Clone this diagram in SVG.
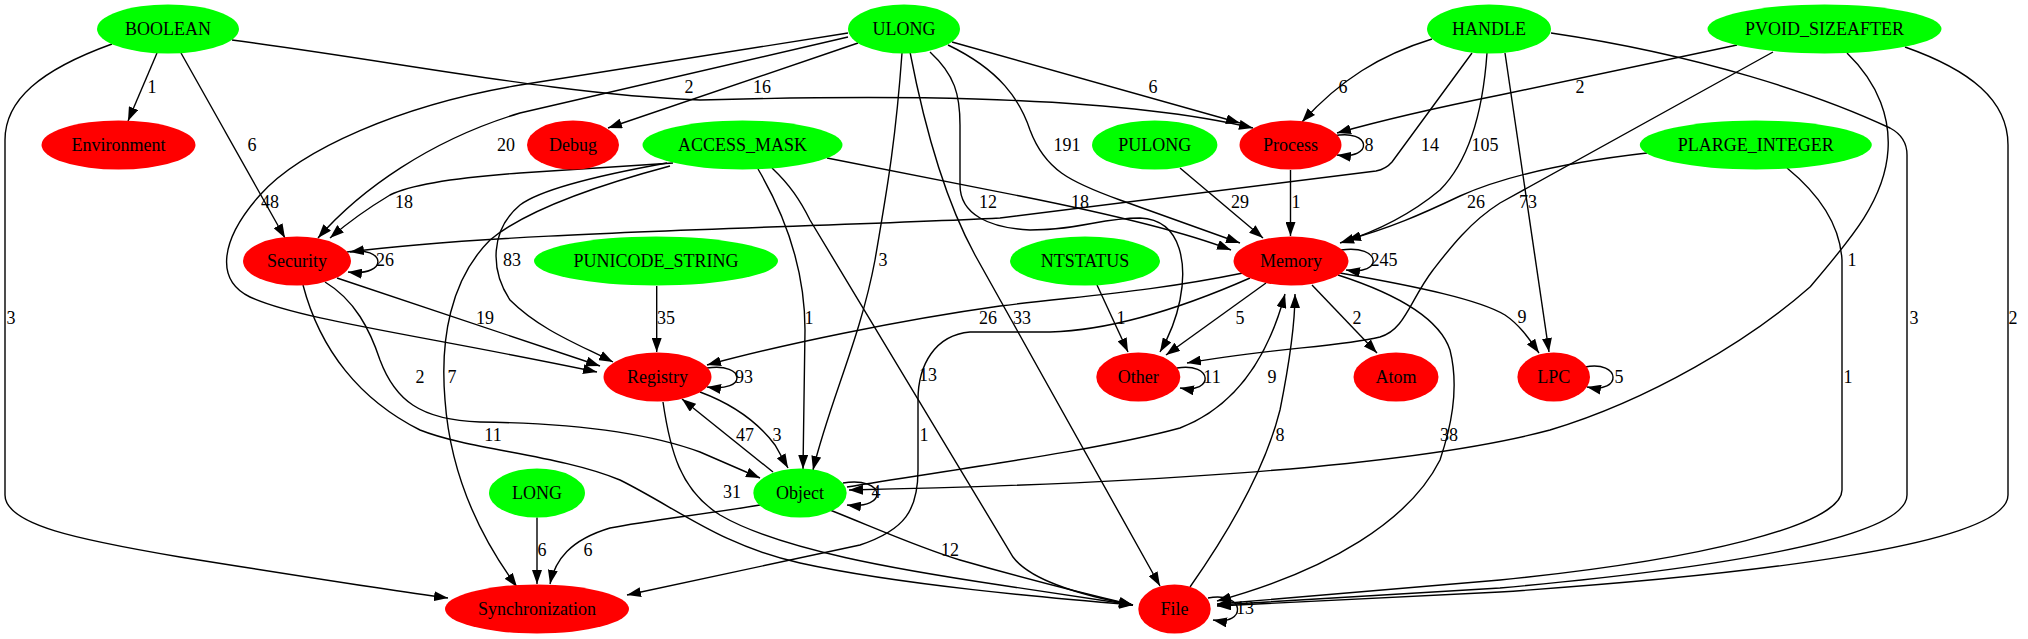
<svg xmlns="http://www.w3.org/2000/svg" width="2028" height="639" viewBox="0 0 2028 639">
<style>
text{font-family:"Liberation Serif","Times New Roman",serif;font-size:18px;text-anchor:middle;fill:#000}
.e path{fill:none;stroke:#000;stroke-width:1.4;marker-end:url(#arr)}
.g{fill:#00ff00}
.r{fill:#ff0000}
</style>
<defs>
<marker id="arr" viewBox="0 0 14 10" refX="14" refY="5" markerWidth="14" markerHeight="10" markerUnits="userSpaceOnUse" orient="auto">
<path d="M0,0 L14,5 L0,10 z" fill="#000"/>
</marker>
</defs>
<rect width="2028" height="639" fill="#fff"/>
<g id="edges" class="e">
<g id="e1"><path d="M157,53 L128,121"/><text x="152" y="93">1</text></g>
<g id="e2"><path d="M181,53 L285,238"/><text x="252" y="151">6</text></g>
<g id="e3"><path d="M232,40 C 400,62 560,95 700,100 C 850,96 1100,92 1253,128"/><text x="689" y="93">2</text></g>
<g id="e4"><path d="M112,44 C 40,70 5,100 5,140 L5,495 C 5,525 80,540 180,557 C 280,573 380,589 448,598"/><text x="11" y="324">3</text></g>
<g id="e5"><path d="M858,43 L608,128"/><text x="762" y="93">16</text></g>
<g id="e6"><path d="M848,37 L520,113 C 430,140 360,190 318,238"/><text x="506" y="151">20</text></g>
<g id="e7"><path d="M848,33 L520,85 C 400,105 300,150 260,195 C 220,240 215,280 250,297 C 300,320 420,335 597,372"/><text x="270" y="208">48</text></g>
<g id="e8"><path d="M952,42 L1240,123"/><text x="1153" y="93">6</text></g>
<g id="e9"><path d="M948,45 C 1000,70 1020,100 1030,130 C 1045,170 1070,182 1120,200 L1240,243"/><text x="1067" y="151">191</text></g>
<g id="e10"><path d="M930,52 C 955,75 960,95 960,125 L960,185 C 960,215 990,228 1030,230 C 1080,230 1100,218 1140,218 C 1185,220 1186,270 1180,300 C 1176,320 1170,335 1160,352"/><text x="988" y="208">12</text></g>
<g id="e11"><path d="M902,53 C 895,150 885,200 875,260 C 860,340 830,400 813,470"/><text x="883" y="266">3</text></g>
<g id="e12"><path d="M910,52 C 925,130 945,200 975,255 L1160,586"/><text x="1022" y="324">33</text></g>
<g id="e13"><path d="M673,163 L520,173 C 450,178 410,185 390,195 C 365,210 345,225 330,238"/><text x="404" y="208">18</text></g>
<g id="e14"><path d="M667,163 C 600,175 540,190 520,205 C 490,230 490,270 510,300 C 540,330 580,345 613,362"/><text x="512" y="266">83</text></g>
<g id="e15"><path d="M670,166 C 580,190 520,215 490,240 C 450,280 440,340 445,400 C 450,470 475,530 517,587"/><text x="452" y="383">7</text></g>
<g id="e16"><path d="M827,158 L1020,196 C 1100,212 1180,230 1231,250"/><text x="1080" y="208">18</text></g>
<g id="e17"><path d="M758,169 C 785,215 805,270 805,330 L803,469"/><text x="809" y="324">1</text></g>
<g id="e18"><path d="M772,168 C 790,185 800,200 810,220 L1013,557 C 1030,580 1080,595 1133,605"/><text x="928" y="381">13</text></g>
<g id="e19"><path d="M1432,39 C 1380,55 1340,80 1302,122"/><text x="1343" y="93">6</text></g>
<g id="e20"><path d="M1472,53 L1392,162 Q1386,169 1376,171 L1000,218 C 800,228 500,232 350,252"/><text x="1430" y="151">14</text></g>
<g id="e21"><path d="M1487,53 C 1483,110 1470,160 1440,190 C 1410,215 1375,232 1340,243"/><text x="1485" y="151">105</text></g>
<g id="e22"><path d="M1505,53 L1549,352"/><text x="1528" y="208">73</text></g>
<g id="e23"><path d="M1551,33 C 1700,55 1820,95 1890,128 Q1907,137 1907,155 L1907,495 C 1907,540 1700,570 1500,588 L1217,605"/><text x="1914" y="324">3</text></g>
<g id="e24"><path d="M1737,45 L1500,95 C 1450,105 1390,118 1337,133"/><text x="1580" y="93">2</text></g>
<g id="e25"><path d="M1773,52 L1500,203 C 1470,222 1450,248 1433,270 C 1410,300 1405,330 1380,337 C 1340,347 1270,348 1187,363"/></g>
<g id="e26"><path d="M1847,53 C 1880,85 1890,120 1888,150 C 1885,200 1850,240 1810,287 C 1750,340 1650,400 1550,430 C 1400,470 1100,485 849,490"/><text x="1852" y="266">1</text></g>
<g id="e27"><path d="M1905,47 C 1970,70 2008,100 2008,145 L2008,495 C 2008,545 1750,575 1500,592 L1217,606"/><text x="2013" y="324">2</text></g>
<g id="e28"><path d="M1787,168 C 1820,195 1840,225 1842,260 L1842,490 C 1842,525 1700,560 1500,580 L1217,604"/><text x="1848" y="383">1</text></g>
<g id="e29"><path d="M1647,153 C 1560,163 1500,178 1460,196 C 1420,215 1390,228 1347,240"/><text x="1476" y="208">26</text></g>
<g id="e30"><path d="M1180,168 L1263,238"/><text x="1240" y="208">29</text></g>
<g id="e31"><path d="M1290.5,170 L1290.5,236"/><text x="1296" y="208">1</text></g>
<g id="e32"><path d="M1333,136 C 1372,128 1374,160 1337,155"/><text x="1369" y="151">8</text></g>
<g id="e33"><path d="M1341,250 C 1382,244 1384,276 1346,270"/><text x="1384" y="266">245</text></g>
<g id="e34"><path d="M1243,273 C 1150,292 1080,296 1000,306 C 900,320 780,345 707,365"/><text x="988" y="324">26</text></g>
<g id="e35"><path d="M1250,278 C 1200,300 1120,330 1050,332 L970,332 C 935,335 918,365 918,400 L918,470 C 918,510 905,530 860,545 L627,595"/><text x="924" y="441">1</text></g>
<g id="e36"><path d="M1266,283 L1166,355"/><text x="1240" y="324">5</text></g>
<g id="e37"><path d="M1097,285 L1128,352"/><text x="1121" y="324">1</text></g>
<g id="e38"><path d="M1312,285 L1377,353"/><text x="1357" y="324">2</text></g>
<g id="e39"><path d="M1340,273 C 1420,287 1480,300 1505,315 C 1520,325 1530,340 1539,353"/><text x="1522" y="323">9</text></g>
<g id="e40"><path d="M1338,275 C 1400,295 1440,320 1450,350 C 1460,390 1450,430 1440,460 C 1410,520 1330,570 1217,601"/><text x="1449" y="441">38</text></g>
<g id="e41"><path d="M1190,587 C 1230,530 1265,470 1280,410 C 1290,360 1295,320 1295,294"/><text x="1280" y="441">8</text></g>
<g id="e42"><path d="M847,487 C 950,470 1100,450 1180,428 C 1240,405 1270,350 1285,294"/><text x="1272" y="383">9</text></g>
<g id="e43"><path d="M656.7,286 L656.7,352"/><text x="666" y="324">35</text></g>
<g id="e44"><path d="M347,252 C 387,245 389,277 348,272"/><text x="385" y="266">26</text></g>
<g id="e45"><path d="M337,278 L600,366"/><text x="485" y="324">19</text></g>
<g id="e46"><path d="M325,282 C 355,300 370,330 380,360 C 395,400 420,420 480,422 C 560,423 640,430 700,452 L760,478"/><text x="420" y="383">2</text></g>
<g id="e47"><path d="M303,285 C 320,350 360,400 420,430 C 470,450 560,455 620,480 C 680,510 720,545 800,563 C 900,585 1050,598 1133,605"/><text x="493" y="441">11</text></g>
<g id="e48"><path d="M707,368 C 746,362 748,393 707,387"/><text x="744" y="383">93</text></g>
<g id="e49"><path d="M700,392 C 735,405 760,425 775,445 L788,468"/><text x="777" y="441">3</text></g>
<g id="e50"><path d="M773,472 L682,399"/><text x="745" y="441">47</text></g>
<g id="e51"><path d="M663,402 C 670,450 680,490 720,515 C 780,550 900,570 1000,585 L1133,605"/><text x="732" y="498">31</text></g>
<g id="e52"><path d="M843,483 C 886,476 889,510 847,505"/><text x="876" y="498">4</text></g>
<g id="e53"><path d="M760,505 C 700,515 650,520 610,528 C 570,540 555,560 550,584"/><text x="588" y="556">6</text></g>
<g id="e54"><path d="M537,517.5 L537,584"/><text x="542" y="556">6</text></g>
<g id="e55"><path d="M830,510 C 880,530 920,548 960,560 C 1030,580 1090,595 1133,605"/><text x="950" y="556">12</text></g>
<g id="e56"><path d="M1208,598 C 1246,591 1247,626 1213,620"/><text x="1245" y="614">13</text></g>
<g id="e57"><path d="M1177,368 C 1213,362 1215,394 1180,388"/><text x="1212" y="383">11</text></g>
<g id="e58"><path d="M1585,367 C 1621,360 1623,394 1587,387"/><text x="1619" y="383">5</text></g>
</g>
<g id="node-BOOLEAN"><ellipse class="g" cx="168" cy="29" rx="71" ry="24.5"/><text x="168" y="35">BOOLEAN</text></g>
<g id="node-ULONG"><ellipse class="g" cx="904" cy="29" rx="56" ry="24.5"/><text x="904" y="35">ULONG</text></g>
<g id="node-HANDLE"><ellipse class="g" cx="1489" cy="29" rx="62" ry="24.5"/><text x="1489" y="35">HANDLE</text></g>
<g id="node-PVOID_SIZEAFTER"><ellipse class="g" cx="1824.5" cy="29" rx="117" ry="24.5"/><text x="1824.5" y="35">PVOID_SIZEAFTER</text></g>
<g id="node-Environment"><ellipse class="r" cx="118.5" cy="145" rx="77" ry="24.5"/><text x="118.5" y="151">Environment</text></g>
<g id="node-Debug"><ellipse class="r" cx="573" cy="145" rx="46" ry="24.5"/><text x="573" y="151">Debug</text></g>
<g id="node-ACCESS_MASK"><ellipse class="g" cx="742.5" cy="145" rx="100" ry="24.5"/><text x="742.5" y="151">ACCESS_MASK</text></g>
<g id="node-PULONG"><ellipse class="g" cx="1154.7" cy="145" rx="62.7" ry="24.5"/><text x="1154.7" y="151">PULONG</text></g>
<g id="node-Process"><ellipse class="r" cx="1290.5" cy="145" rx="51" ry="24.5"/><text x="1290.5" y="151">Process</text></g>
<g id="node-PLARGE_INTEGER"><ellipse class="g" cx="1755.8" cy="145" rx="116" ry="24.5"/><text x="1755.8" y="151">PLARGE_INTEGER</text></g>
<g id="node-Security"><ellipse class="r" cx="297" cy="261" rx="54" ry="24.5"/><text x="297" y="267">Security</text></g>
<g id="node-PUNICODE_STRING"><ellipse class="g" cx="656" cy="261" rx="122" ry="24.5"/><text x="656" y="267">PUNICODE_STRING</text></g>
<g id="node-NTSTATUS"><ellipse class="g" cx="1085" cy="261" rx="75" ry="24.5"/><text x="1085" y="267">NTSTATUS</text></g>
<g id="node-Memory"><ellipse class="r" cx="1291" cy="261" rx="57.5" ry="24.5"/><text x="1291" y="267">Memory</text></g>
<g id="node-Registry"><ellipse class="r" cx="657.5" cy="377" rx="54" ry="24.5"/><text x="657.5" y="383">Registry</text></g>
<g id="node-Other"><ellipse class="r" cx="1138.3" cy="377" rx="42" ry="24.5"/><text x="1138.3" y="383">Other</text></g>
<g id="node-Atom"><ellipse class="r" cx="1396" cy="377" rx="42.5" ry="24.5"/><text x="1396" y="383">Atom</text></g>
<g id="node-LPC"><ellipse class="r" cx="1553.7" cy="377" rx="36.3" ry="24.5"/><text x="1553.7" y="383">LPC</text></g>
<g id="node-LONG"><ellipse class="g" cx="537" cy="493" rx="48" ry="24.5"/><text x="537" y="499">LONG</text></g>
<g id="node-Object"><ellipse class="g" cx="800" cy="493" rx="46.7" ry="24.5"/><text x="800" y="499">Object</text></g>
<g id="node-Synchronization"><ellipse class="r" cx="537" cy="609" rx="92" ry="24.5"/><text x="537" y="615">Synchronization</text></g>
<g id="node-File"><ellipse class="r" cx="1174.5" cy="609" rx="36.2" ry="24.5"/><text x="1174.5" y="615">File</text></g>
</svg>
